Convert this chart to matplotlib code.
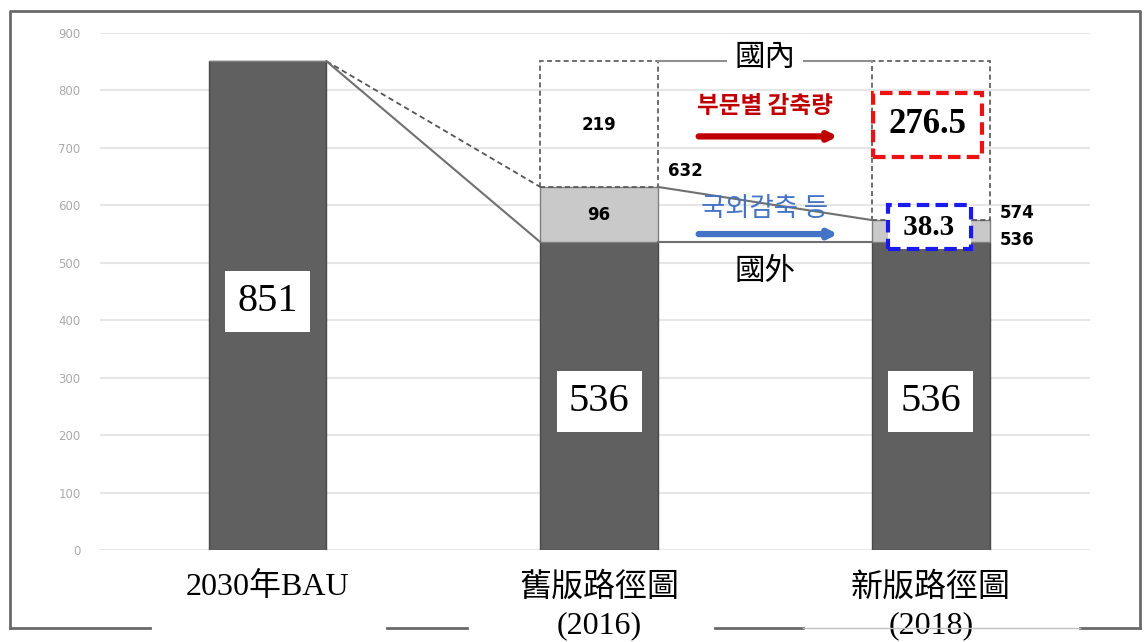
"""
Recreation of the 2030 BAU vs roadmap comparison chart (bar + bridge lines).
"""

import matplotlib
matplotlib.use("Agg")
import matplotlib.pyplot as plt
from matplotlib.lines import Line2D

# ---- data ----
categories = ["2030年BAU", "舊版路徑圖\n(2016)", "新版路徑圖\n(2018)"]
base_values = [851, 536, 536]          # dark bars
overseas = [0, 96, 38.3]               # light grey (國外)
domestic_top = [None, 851, 851]        # dashed box top
totals = [851, 632, 574.3]
domestic_cut = [None, 219, 276.5]
yticks = [0, 100, 200, 300, 400, 500, 600, 700, 800, 900]

DARK = "#606060"
LIGHT = "#c9c9c9"
EDGE = "#4a4a4a"
SERIF_CJK = ["Liberation Serif", "Noto Sans CJK TC"]

W, H = 1144, 642
fig = plt.figure(figsize=(W / 100, H / 100), dpi=100)
ax = fig.add_axes([100 / W, (H - 550) / H, 990 / W, 517 / H])

x = list(range(len(categories)))
bw = 0.355

ax.bar(x, base_values, width=bw, color=DARK, edgecolor=EDGE, linewidth=1, zorder=3)
ax.bar(x, overseas, width=bw, bottom=base_values, color=LIGHT,
       edgecolor="#808080", linewidth=1, zorder=3)

# dashed boxes for domestic part
for i in (1, 2):
    ax.bar(x[i], domestic_top[i] - totals[i], width=bw, bottom=totals[i],
           fill=False, edgecolor="#555555", linestyle=(0, (3, 2)), linewidth=1.2, zorder=3)

ax.set_xlim(-0.505, 2.48)
ax.set_ylim(0, 900)
ax.set_yticks(yticks)
ax.set_yticklabels([str(v) for v in yticks], color="#aaaaaa", fontsize=8.5,
                   family="DejaVu Sans")
ax.tick_params(axis="y", length=0, pad=14)
ax.yaxis.grid(True, color="#e6e6e6", linewidth=1.5, zorder=0)
ax.set_axisbelow(True)
for s in ax.spines.values():
    s.set_visible(False)

ax.set_xticks(x)
ax.set_xticklabels(categories, family=SERIF_CJK, fontsize=23, linespacing=1.4)
ax.tick_params(axis="x", length=0, pad=16)

# bridge lines
r0 = x[0] + bw / 2
l1, r1 = x[1] - bw / 2, x[1] + bw / 2
l2 = x[2] - bw / 2
ax.plot([r0, l1], [base_values[0], totals[1]], color="#555555",
        linestyle=(0, (3, 2)), linewidth=1.3, zorder=4)
ax.plot([r0, l1], [base_values[0], base_values[1]], color="#707070", linewidth=1.5, zorder=4)
ax.plot([r1, l2], [totals[1], totals[2]], color="#707070", linewidth=1.5, zorder=4)
ax.plot([r1, l2], [base_values[1], base_values[2]], color="#707070", linewidth=1.5, zorder=4)
ax.plot([r1, l2], [domestic_top[1], domestic_top[2]], color="#909090", linewidth=1.5, zorder=4)

# white-box numbers on dark bars
for i, yv in zip(x, [432, 258, 258]):
    ax.text(i, yv, f"{base_values[i]}", ha="center", va="center", fontsize=29,
            family="Liberation Serif", zorder=5,
            bbox=dict(boxstyle="square,pad=0.3", facecolor="white", edgecolor="none"))

small = dict(fontsize=12, fontweight="bold", family=["Liberation Sans Narrow", "DejaVu Sans"],
             zorder=5)
ax.text(x[1], 740, f"{domestic_cut[1]}", ha="center", va="center", **small)
ax.text(x[1], 583, f"{overseas[1]}", ha="center", va="center", **small)
ax.text(r1 + 0.03, 660, f"{totals[1]:.0f}", ha="left", va="center", **small)
ax.text(x[2] + bw / 2 + 0.03, 587, f"{totals[2]:.0f}", ha="left", va="center", **small)
ax.text(x[2] + bw / 2 + 0.03, 540, f"{base_values[2]}", ha="left", va="center", **small)

# highlighted values on new roadmap
ax.text(x[2] - 0.01, 740, f"{domestic_cut[2]}", ha="center", va="center", fontsize=25,
        fontweight="bold", family="Liberation Serif", zorder=6,
        bbox=dict(boxstyle="square,pad=0.45", facecolor="white", edgecolor="#ee1111",
                  linewidth=3, linestyle=(0, (3, 1.5))))
ax.text(x[2] - 0.005, 562, f" {overseas[2]} ", ha="center", va="center", fontsize=21,
        fontweight="bold", family="Liberation Serif", zorder=6,
        bbox=dict(boxstyle="square,pad=0.3", facecolor="white", edgecolor="#1a1aee",
                  linewidth=3, linestyle=(0, (3, 1.5))))

# 國內 / 國外 labels
mid = (r1 + l2) / 2
ax.text(mid, 858, "國內", ha="center", va="center", fontsize=22,
        family="Noto Sans CJK TC", zorder=6,
        bbox=dict(boxstyle="square,pad=0.25", facecolor="white", edgecolor="none"))
ax.text(mid, 484, "國外", ha="center", va="center", fontsize=22,
        family="Noto Sans CJK TC", zorder=6)

# arrows and korean labels
ax.text(mid, 773, "부문별 감축량", ha="center", va="center", fontsize=17,
        fontweight="bold", color="#c00000", family="Noto Sans CJK KR", zorder=6)
ax.annotate("", xy=(1.72, 720), xytext=(1.30, 720), zorder=6,
            arrowprops=dict(arrowstyle="-|>", color="#c00000", lw=4.5,
                            mutation_scale=12, shrinkA=0, shrinkB=0))
ax.text(mid, 594, "국외감축 등", ha="center", va="center", fontsize=19,
        fontweight="medium", color="#4472c4", family="Noto Sans CJK KR", zorder=6)
ax.annotate("", xy=(1.72, 550), xytext=(1.30, 550), zorder=6,
            arrowprops=dict(arrowstyle="-|>", color="#4472c4", lw=4.5,
                            mutation_scale=12, shrinkA=0, shrinkB=0))

# outer frame (broken at the bottom)
def fline(xs, ys, **kw):
    fig.add_artist(Line2D([v / W for v in xs], [1 - v / H for v in ys], **kw))

frame = dict(color="#6a6a6a", linewidth=2)
fline([10, 10, 1140, 1140], [628, 11, 11, 628], **frame)
for a, b in [(10, 150), (387, 467), (715, 803), (1080, 1140)]:
    fline([a, b], [628, 628], **frame)
fline([803, 1080], [628, 628], color="#c0c0c0", linewidth=1)

fig.savefig("out.png", dpi=100)
